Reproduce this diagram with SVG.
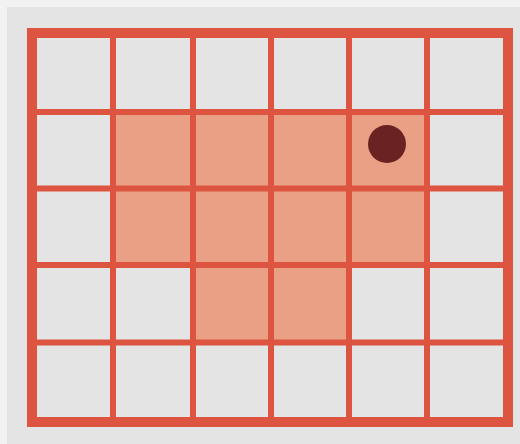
<svg xmlns="http://www.w3.org/2000/svg" width="520" height="444" viewBox="0 0 520 444">
  <style>
    .cell { fill: #e9a084; }
    .ln { stroke: #dd5440; stroke-width: 6; fill: none; }
    .frame { stroke: #dd5440; stroke-width: 10; fill: none; }
  </style>
  <rect x="0" y="0" width="520" height="444" fill="#f2f2f2"/>
  <rect x="7" y="7" width="513" height="437" fill="#e4e4e4"/>
  <g id="shaded">
    <rect class="cell" x="113" y="112" width="314" height="153"/>
    <rect class="cell" x="193" y="265" width="156" height="77.5"/>
  </g>
  <g id="grid">
    <line class="ln" x1="113" y1="33" x2="113" y2="422"/>
    <line class="ln" x1="193" y1="33" x2="193" y2="422"/>
    <line class="ln" x1="271" y1="33" x2="271" y2="422"/>
    <line class="ln" x1="349" y1="33" x2="349" y2="422"/>
    <line class="ln" x1="427" y1="33" x2="427" y2="422"/>
    <line class="ln" x1="32" y1="112" x2="508" y2="112"/>
    <line class="ln" x1="32" y1="188.5" x2="508" y2="188.5"/>
    <line class="ln" x1="32" y1="265" x2="508" y2="265"/>
    <line class="ln" x1="32" y1="342.5" x2="508" y2="342.5"/>
    <rect class="frame" x="32" y="33" width="476" height="389"/>
  </g>
  <circle id="dot" cx="387" cy="144" r="19" fill="#6b2222"/>
</svg>
